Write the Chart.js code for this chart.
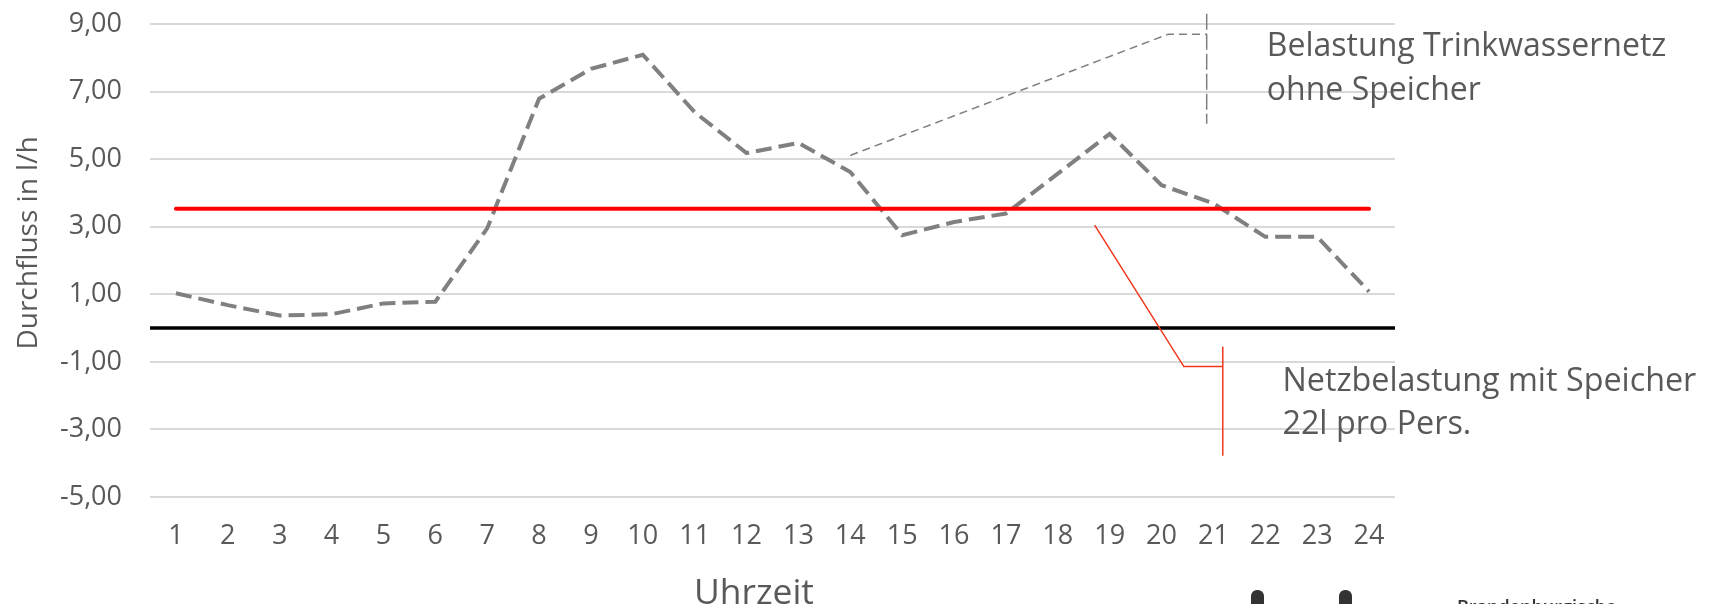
<!DOCTYPE html>
<html>
<head>
<meta charset="utf-8">
<script src="https://cdn.jsdelivr.net/npm/chart.js@4.4.1/dist/chart.umd.min.js"></script>
<style>
    html, body { margin: 0; padding: 0; background: #fff; overflow: hidden; }
    #wrap { position: relative; width: 1714px; height: 604px; overflow: hidden; }
    #myChart { position: absolute; left: 0; top: 0; }
    .pin { position: absolute; top: 590px; width: 13px; height: 30px; background: #333; border-radius: 6px 6px 0 0; }
    #logo_text { position: absolute; left: 1457px; top: 597px; font: 600 18px "Open Sans"; line-height: 18px; color: #333; white-space: nowrap; }
</style>
</head>
<body>
<div id="wrap">
    <canvas id="myChart" width="1714" height="604"></canvas>
    <div class="pin" style="left:1251px"></div>
    <div class="pin" style="left:1339px"></div>
    <div id="logo_text">Brandenburgische</div>
</div>
<script>
// hours of the day (x categories)
const hours = ["1", "2", "3", "4", "5", "6", "7", "8", "9", "10", "11", "12",
               "13", "14", "15", "16", "17", "18", "19", "20", "21", "22", "23", "24"];

// flow in l/h
const withoutStorage = [1.03, 0.68, 0.37, 0.41, 0.73, 0.78, 2.95, 6.79, 7.67, 8.09, 6.39, 5.18,
                        5.48, 4.62, 2.75, 3.14, 3.39, 4.57, 5.75, 4.23, 3.69, 2.70, 2.70, 1.08];
const withStorage = [3.53, 3.53, 3.53, 3.53, 3.53, 3.53, 3.53, 3.53, 3.53, 3.53, 3.53, 3.53,
                     3.53, 3.53, 3.53, 3.53, 3.53, 3.53, 3.53, 3.53, 3.53, 3.53, 3.53, 3.53];

// y axis range
const yMin = -5;
const yMax = 9;
const yStep = 2;

// callout leaders, x in hours, y in l/h
const grayLeaderX = [14, 20.13, 20.87];
const grayLeaderY = [5.11, 8.70, 8.70];
const grayBracketX = [20.87, 20.87];
const grayBracketY = [9.30, 6.05];
const redLeaderX = [18.71, 20.43, 21.18];
const redLeaderY = [3.05, -1.14, -1.14];
const redBracketX = [21.18, 21.18];
const redBracketY = [-0.55, -3.78];

const grayLabel = ["Belastung Trinkwassernetz", "ohne Speicher"];
const grayLabelX = 22.03;
const grayLabelY = [8.31, 7.03];
const redLabel = ["Netzbelastung mit Speicher", "22l pro Pers."];
const redLabelX = 22.33;
const redLabelY = [-1.58, -2.86];

const textColor = "#595959";
const fontFamily = "'Open Sans', sans-serif";

function fitSize(ctx, text, width, weight) {
    ctx.font = (weight || "400") + " 100px " + fontFamily;
    return 100 * width / ctx.measureText(text).width;
}

function polyline(chart, xs, ys, color, width, dash) {
    const ctx = chart.ctx;
    const sx = chart.scales.x;
    const sy = chart.scales.y;
    ctx.save();
    ctx.strokeStyle = color;
    ctx.lineWidth = width;
    ctx.setLineDash(dash);
    ctx.beginPath();
    xs.forEach((h, i) => {
        const px = sx.getPixelForValue(h - 1);
        const py = sy.getPixelForValue(ys[i]);
        if (i === 0) ctx.moveTo(px, py); else ctx.lineTo(px, py);
    });
    ctx.stroke();
    ctx.restore();
}

function label(chart, lines, h, ys, targetWidth) {
    const ctx = chart.ctx;
    ctx.save();
    const size = fitSize(ctx, lines[0], targetWidth);
    ctx.font = size.toFixed(1) + "px " + fontFamily;
    ctx.fillStyle = textColor;
    ctx.textAlign = "left";
    ctx.textBaseline = "middle";
    const px = chart.scales.x.getPixelForValue(h - 1);
    lines.forEach((t, i) => ctx.fillText(t, px, chart.scales.y.getPixelForValue(ys[i])));
    ctx.restore();
}

const zeroLine = {
    id: "zeroLine",
    beforeDatasetsDraw(chart) {
        const ctx = chart.ctx;
        const y = chart.scales.y.getPixelForValue(0);
        ctx.save();
        ctx.strokeStyle = "#000000";
        ctx.lineWidth = 3.5;
        ctx.beginPath();
        ctx.moveTo(chart.chartArea.left, y);
        ctx.lineTo(chart.chartArea.right, y);
        ctx.stroke();
        ctx.restore();
    }
};

const callouts = {
    id: "callouts",
    afterDraw(chart) {
        const ctx = chart.ctx;
        polyline(chart, grayLeaderX, grayLeaderY, "#7f7f7f", 1.5, [8, 5]);
        polyline(chart, grayBracketX, grayBracketY, "#7f7f7f", 1.5, [16, 4]);
        polyline(chart, redLeaderX, redLeaderY, "#f0381c", 1.5, []);
        polyline(chart, redBracketX, redBracketY, "#f0381c", 1.5, []);

        label(chart, grayLabel, grayLabelX, grayLabelY, 399);
        label(chart, redLabel, redLabelX, redLabelY, 414);

        // axis titles
        ctx.save();
        ctx.fillStyle = textColor;
        ctx.textAlign = "center";
        ctx.textBaseline = "middle";
        let size = fitSize(ctx, "Durchfluss in l/h", 213);
        ctx.font = size.toFixed(1) + "px " + fontFamily;
        ctx.translate(29, 243);
        ctx.rotate(-Math.PI / 2);
        ctx.fillText("Durchfluss in l/h", 0, 0);
        ctx.restore();

        ctx.save();
        ctx.fillStyle = textColor;
        ctx.textAlign = "center";
        ctx.textBaseline = "middle";
        size = fitSize(ctx, "Uhrzeit", 120);
        ctx.font = size.toFixed(1) + "px " + fontFamily;
        ctx.fillText("Uhrzeit", 754, 594);
        ctx.restore();
    }
};

const tickFont = { family: fontFamily, size: 27 };

new Chart(document.getElementById("myChart"), {
    type: "line",
    data: {
        labels: hours,
        datasets: [
            {
                label: "Netzbelastung mit Speicher 22l pro Pers.",
                data: withStorage,
                borderColor: "#ff0000",
                borderWidth: 4,
                borderCapStyle: "round",
                pointRadius: 0,
                fill: false
            },
            {
                label: "Belastung Trinkwassernetz ohne Speicher",
                data: withoutStorage,
                borderColor: "#808080",
                borderWidth: 4,
                borderDash: [16, 7],
                borderCapStyle: "butt",
                pointRadius: 0,
                fill: false
            }
        ]
    },
    options: {
        responsive: false,
        animation: false,
        layout: { padding: { left: 0, right: 319, top: 24, bottom: 0 } },
        elements: { line: { tension: 0 } },
        plugins: {
            legend: { display: false },
            tooltip: { enabled: false }
        },
        scales: {
            x: {
                offset: true,
                grid: { display: false },
                border: { display: false },
                ticks: { color: textColor, font: tickFont, padding: 15, maxRotation: 0, autoSkip: false },
                afterFit(scale) { scale.height = 107; }
            },
            y: {
                min: yMin,
                max: yMax,
                grid: { color: "#d9d9d9", lineWidth: 2, drawTicks: true, tickLength: 28, tickColor: "rgba(0,0,0,0)" },
                border: { display: false },
                ticks: {
                    stepSize: yStep,
                    color: textColor,
                    font: tickFont,
                    padding: 0,
                    callback: v => v.toFixed(2).replace(".", ",")
                },
                afterFit(scale) { scale.width = 150; }
            }
        }
    },
    plugins: [zeroLine, callouts]
});
</script>
</body>
</html>
